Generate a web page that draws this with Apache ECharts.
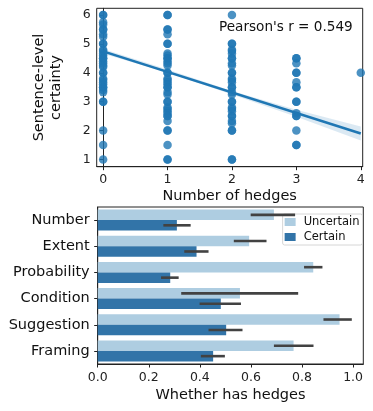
<!DOCTYPE html>
<html>
<head>
<meta charset="utf-8">
<script src="https://cdn.jsdelivr.net/npm/echarts@6/dist/echarts.min.js"></script>
<style>
html,body{margin:0;padding:0;background:#fff;}
#c{width:373px;height:411px;}
</style>
</head>
<body>
<div id="c"></div>
<script>
// ---------- Top: scatter of certainty vs number of hedges ----------
var hedges0 = [6,6,5.75,5.67,5.5,5.5,5.33,5.25,5,5,4.8,4.75,4.67,4.6,4.5,4.5,4.4,4.33,4.25,4.2,4,4,3.8,3.75,3.67,3.6,3.5,3.5,3.4,3.33,3,3,2,1.5,1];
var hedges1 = [6,6,5.5,5.5,5.33,5,5,4.67,4.6,4.5,4.5,4.4,4.33,4.25,4,4,3.8,3.75,3.67,3.6,3.5,3.5,3.33,3.25,3,3,2.8,2.75,2.67,2.6,2.5,2.5,2.33,2,2,1.5,1,1];
var hedges2 = [6,5,5,4.8,4.75,4.67,4.5,4.5,4.33,4.25,4,4,3.8,3.75,3.67,3.5,3.5,3.33,3.25,3,3,2.8,2.75,2.67,2.5,2.5,2.33,2.25,2,2,1,1];
var hedges3 = [4.5,4.5,4.33,4,4,3.67,3.5,3.5,3,3,2.6,2.5,2.5,2,1.5,1.5];
var hedges4 = [4];
var hedgeColumns = [hedges0, hedges1, hedges2, hedges3, hedges4];

var regX = [0, 4];
var regY = [4.74, 1.90];
var bandX = [0, 1, 2, 3, 4];
var bandLow = [4.66, 4.01, 3.25, 2.48, 1.66];
var bandHigh = [4.82, 4.11, 3.37, 2.72, 2.14];
var pearsonText = "Pearson's r = 0.549";
var topXTicks = [0, 1, 2, 3, 4];
var topYTicks = [1, 2, 3, 4, 5, 6];

// ---------- Bottom: hedge categories ----------
var categories = ['Number', 'Extent', 'Probability', 'Condition', 'Suggestion', 'Framing'];
var uncertainVals = [0.690, 0.593, 0.844, 0.557, 0.947, 0.767];
var uncertainLow  = [0.599, 0.533, 0.808, 0.327, 0.884, 0.690];
var uncertainHigh = [0.773, 0.661, 0.880, 0.785, 0.995, 0.845];
var certainVals = [0.310, 0.387, 0.284, 0.482, 0.503, 0.452];
var certainLow  = [0.257, 0.339, 0.248, 0.399, 0.434, 0.404];
var certainHigh = [0.364, 0.434, 0.317, 0.561, 0.567, 0.498];
var bottomXTicks = [0, 0.2, 0.4, 0.6, 0.8, 1.0];

var FONT = 'DejaVu Sans';
var DOT = '#1f77b4';
var LIGHT = '#aecde1';
var DARK = '#3274a8';
var ERR = '#424242';

var scatterData = [];
hedgeColumns.forEach(function (col, x) {
  col.forEach(function (y) { scatterData.push([x, y]); });
});
var regData = regX.map(function (x, i) { return [x, regY[i]]; });
var bandData = bandX.map(function (x, i) { return [x, bandLow[i], bandHigh[i]]; });
var errU = categories.map(function (c, i) { return [uncertainLow[i], uncertainHigh[i], i]; });
var errC = categories.map(function (c, i) { return [certainLow[i], certainHigh[i], i]; });

function errRender(shift) {
  return function (params, api) {
    var cat = api.value(2);
    var p1 = api.coord([api.value(0), cat]);
    var p2 = api.coord([api.value(1), cat]);
    var bw = api.size([0, 1])[1];
    var y = p1[1] + shift * bw;
    return {
      type: 'line',
      shape: { x1: p1[0], y1: y, x2: p2[0], y2: y },
      style: { stroke: ERR, lineWidth: 2.6 },
      z2: 10
    };
  };
}

var axisLineStyle = { color: '#222', width: 1 };

var chart = echarts.init(document.getElementById('c'), null, { renderer: 'canvas' });
chart.setOption({
  animation: false,
  textStyle: { fontFamily: FONT },
  grid: [
    { left: 96.7, right: 10.3, top: 8.3, height: 158.4, show: true, borderColor: '#222', borderWidth: 1 },
    { left: 97.7, right: 9.7, top: 207, height: 157, show: true, borderColor: '#222', borderWidth: 1 }
  ],
  legend: {
    data: ['Uncertain', 'Certain'],
    orient: 'vertical',
    right: 10.5,
    top: 214,
    icon: 'rect',
    itemWidth: 11,
    itemHeight: 8,
    itemGap: 3,
    padding: [2, 3, 2, 2],
    backgroundColor: 'rgba(255,255,255,0.8)',
    borderColor: '#d6d6d6',
    borderWidth: 1,
    borderRadius: 2,
    textStyle: { fontFamily: FONT, fontSize: 11.5, color: '#111', padding: [0, 0, 0, 3] }
  },
  graphic: [{
    type: 'text',
    left: 219,
    top: 20,
    style: { text: pearsonText, font: '13.6px "DejaVu Sans"', fill: '#111' }
  }],
  xAxis: [
    {
      type: 'value', gridIndex: 0, min: -0.1, max: 4.03,
      name: 'Number of hedges', nameLocation: 'middle', nameGap: 22,
      nameTextStyle: { fontFamily: FONT, fontSize: 14.5, color: '#111' },
      axisLine: { show: true, lineStyle: axisLineStyle },
      axisTick: { show: true, length: 3.5, lineStyle: axisLineStyle, customValues: topXTicks },
      axisLabel: { fontFamily: FONT, fontSize: 12.5, color: '#222', margin: 7, customValues: topXTicks },
      splitLine: { show: false }
    },
    {
      type: 'value', gridIndex: 1, min: 0, max: 1.04,
      name: 'Whether has hedges', nameLocation: 'middle', nameGap: 24,
      nameTextStyle: { fontFamily: FONT, fontSize: 14.5, color: '#111' },
      axisLine: { show: true, lineStyle: axisLineStyle },
      axisTick: { show: true, length: 3.5, lineStyle: axisLineStyle, customValues: bottomXTicks },
      axisLabel: { fontFamily: FONT, fontSize: 12.5, color: '#222', margin: 7, customValues: bottomXTicks,
        formatter: function (v) { return v.toFixed(1); } },
      splitLine: { show: false }
    }
  ],
  yAxis: [
    {
      type: 'value', gridIndex: 0, min: 0.75, max: 6.23,
      name: 'Sentence-level\ncertainty', nameLocation: 'middle', nameGap: 32, nameRotate: 90,
      nameTextStyle: { fontFamily: FONT, fontSize: 14.5, color: '#111', lineHeight: 17 },
      axisLine: { show: true, lineStyle: axisLineStyle },
      axisTick: { show: true, length: 3.5, lineStyle: axisLineStyle, customValues: topYTicks },
      axisLabel: { fontFamily: FONT, fontSize: 12.5, color: '#222', margin: 6, customValues: topYTicks },
      splitLine: { show: false }
    },
    {
      type: 'category', gridIndex: 1, data: categories, inverse: true,
      axisLine: { show: true, lineStyle: axisLineStyle },
      axisTick: { show: true, length: 3.5, alignWithLabel: true, lineStyle: axisLineStyle },
      axisLabel: { fontFamily: FONT, fontSize: 14.5, color: '#111', margin: 8 },
      splitLine: { show: false }
    }
  ],
  series: [
    {
      type: 'custom', xAxisIndex: 0, yAxisIndex: 0, data: bandData, silent: true,
      encode: { x: 0, y: [1, 2] }, clip: true, z: 1,
      renderItem: function (params, api) {
        if (params.dataIndex !== 0) return null;
        var upper = [], lower = [];
        for (var i = 0; i < bandData.length; i++) {
          upper.push(api.coord([bandData[i][0], bandData[i][2]]));
          lower.unshift(api.coord([bandData[i][0], bandData[i][1]]));
        }
        return { type: 'polygon', shape: { points: upper.concat(lower) },
          style: { fill: 'rgba(31,119,180,0.16)' } };
      }
    },
    {
      type: 'scatter', xAxisIndex: 0, yAxisIndex: 0, data: scatterData,
      symbolSize: 8.5, itemStyle: { color: DOT, opacity: 0.8 }, z: 2, clip: false
    },
    {
      type: 'line', xAxisIndex: 0, yAxisIndex: 0, data: regData,
      showSymbol: false, lineStyle: { color: DOT, width: 2.6 }, z: 3
    },
    {
      name: 'Uncertain', type: 'bar', xAxisIndex: 1, yAxisIndex: 1, data: uncertainVals,
      itemStyle: { color: LIGHT }, barGap: '0%', barCategoryGap: '20%'
    },
    {
      name: 'Certain', type: 'bar', xAxisIndex: 1, yAxisIndex: 1, data: certainVals,
      itemStyle: { color: DARK }, barGap: '0%', barCategoryGap: '20%'
    },
    {
      type: 'custom', xAxisIndex: 1, yAxisIndex: 1, data: errU, silent: true,
      encode: { x: [0, 1], y: 2 }, renderItem: errRender(-0.2), z: 5
    },
    {
      type: 'custom', xAxisIndex: 1, yAxisIndex: 1, data: errC, silent: true,
      encode: { x: [0, 1], y: 2 }, renderItem: errRender(0.2), z: 5
    }
  ]
});
</script>
</body>
</html>
